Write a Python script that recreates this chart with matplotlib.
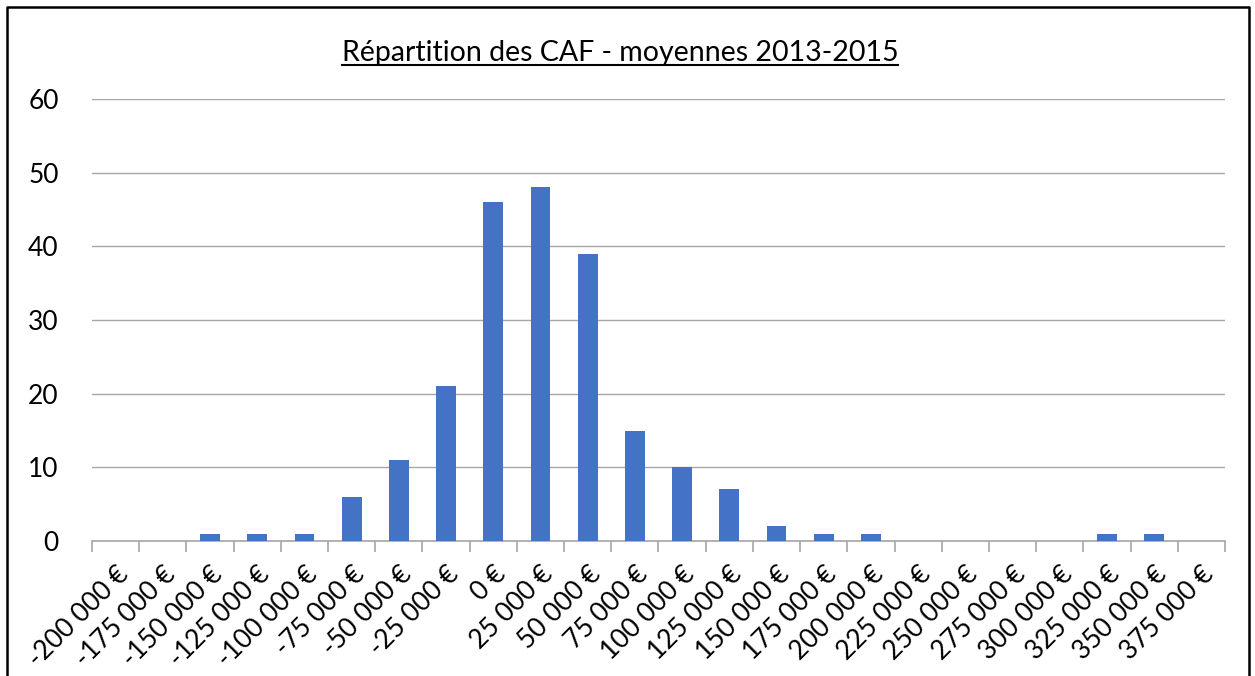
import matplotlib
matplotlib.use("Agg")
import matplotlib.pyplot as plt
from matplotlib.lines import Line2D
import numpy as np

# Histogram of CAF averages 2013-2015
categories = ['-200 000 €', '-175 000 €', '-150 000 €', '-125 000 €', '-100 000 €',
              '-75 000 €', '-50 000 €', '-25 000 €', '0 €', '25 000 €', '50 000 €',
              '75 000 €', '100 000 €', '125 000 €', '150 000 €', '175 000 €',
              '200 000 €', '225 000 €', '250 000 €', '275 000 €', '300 000 €',
              '325 000 €', '350 000 €', '375 000 €']
counts = [0, 0, 1, 1, 1, 6, 11, 21, 46, 48, 39, 15, 10, 7, 2, 1, 1, 0, 0, 0, 0, 1, 1, 0]
y_ticks = [0, 10, 20, 30, 40, 50, 60]
title = 'Répartition des CAF - moyennes 2013-2015'

W, H = 1255, 676
plt.rcParams['font.family'] = ['Lato', 'DejaVu Sans']

fig = plt.figure(figsize=(W / 100, H / 100), dpi=100)
ax = fig.add_axes([92 / W, 1 - 541 / H, (1225 - 92) / W, (541 - 99) / H])

x = np.arange(len(categories))
ax.bar(x, counts, width=0.42, color='#4472C4', zorder=3)

ax.set_xlim(-0.5, len(categories) - 0.5)
ax.set_ylim(0, 60)
ax.set_yticks(y_ticks)
ax.set_yticklabels([str(v) for v in y_ticks], fontsize=19, color='black')
ax.tick_params(axis='y', length=0, pad=24)
ax.yaxis.grid(True, color='#A6A6A6', linewidth=1.0, zorder=0)

# category labels at centers, tick marks at boundaries
ax.set_xticks(x)
ax.set_xticklabels(categories, rotation=45, ha='right', va='top',
                   rotation_mode='anchor', fontsize=19)
ax.tick_params(axis='x', which='major', length=0, pad=15)
ax.set_xticks(np.arange(len(categories) + 1) - 0.5, minor=True)
ax.tick_params(axis='x', which='minor', length=8, width=1.2, color='#A6A6A6')

for s in ['top', 'right', 'left']:
    ax.spines[s].set_visible(False)
ax.spines['bottom'].set_color('#A6A6A6')
ax.spines['bottom'].set_linewidth(1.2)

t = fig.text(620 / W, 1 - 53 / H, title, ha='center', va='center', fontsize=20.5)

# underline the title
fig.canvas.draw()
bb = t.get_window_extent()
fig.add_artist(Line2D([bb.x0 / W, bb.x1 / W], [(bb.y0 + 1) / H, (bb.y0 + 1) / H],
                      color='black', linewidth=1.5))

# outer frame (open at the bottom)
fx0, fx1, fy1 = 7 / W, 1249 / W, 1 - 7 / H
fig.add_artist(Line2D([fx0, fx0, fx1, fx1], [0, fy1, fy1, 0], color='black', linewidth=1.8))

fig.savefig('out.png', dpi=100)
